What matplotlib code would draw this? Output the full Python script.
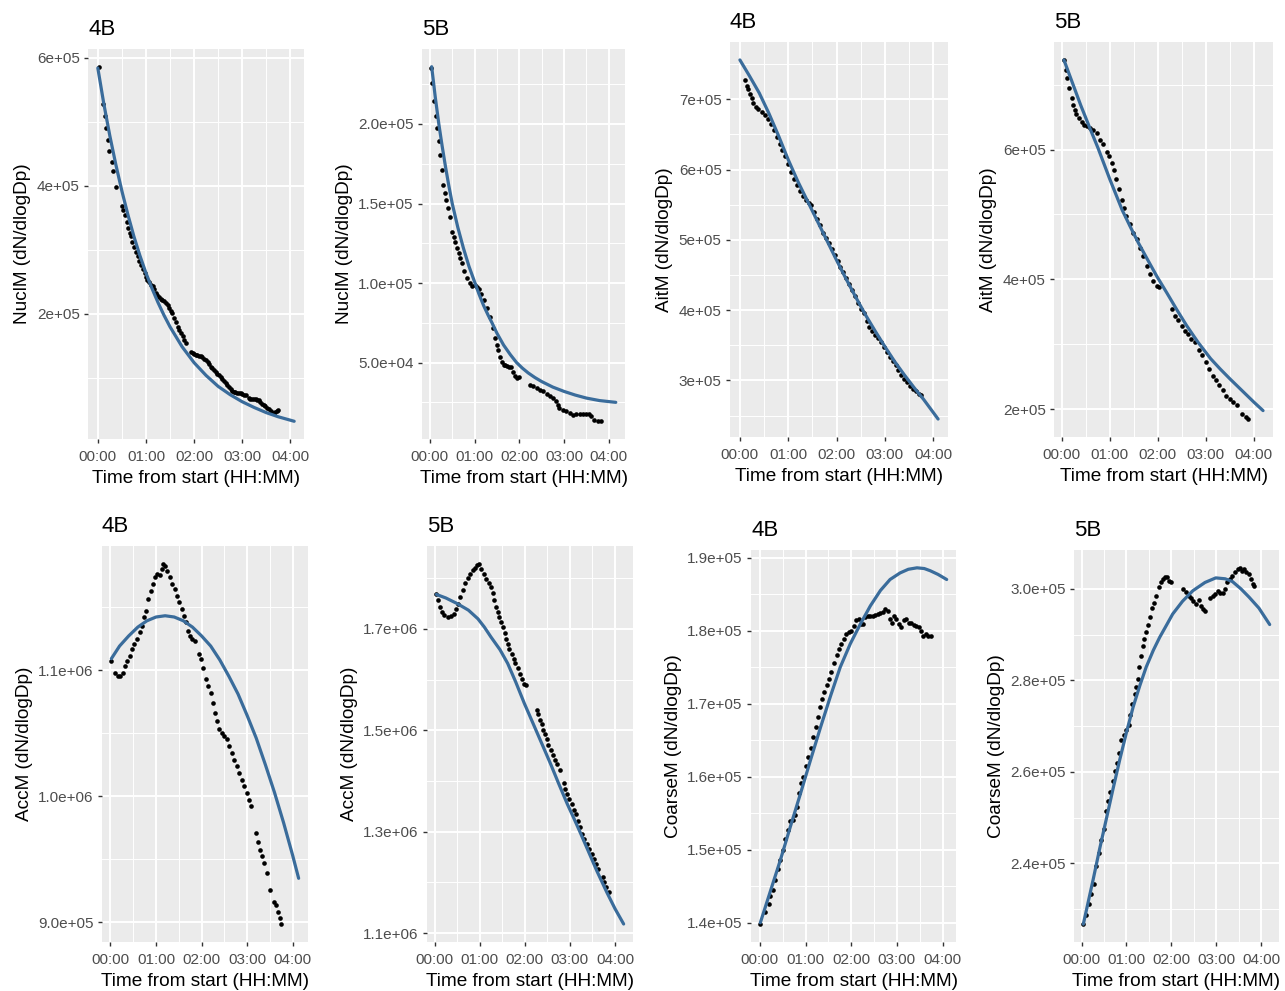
import matplotlib
matplotlib.use("Agg")
import matplotlib.pyplot as plt
from matplotlib.ticker import FixedLocator, FixedFormatter

plt.rcParams['font.family'] = ['Liberation Sans', 'DejaVu Sans']

# ---------------- data (time in hours from start, values in thousands) ----------------
# NuclM 4B
nuc4_t = [0.02, 0.10, 0.14, 0.17, 0.21, 0.24, 0.29, 0.32, 0.38,
          0.50, 0.53, 0.56, 0.60, 0.63, 0.66, 0.69, 0.72, 0.76, 0.79, 0.83, 0.86, 0.90, 0.93, 0.97,
          1.00, 1.03, 1.07, 1.10, 1.14, 1.17, 1.21, 1.24, 1.28, 1.31, 1.34, 1.38, 1.41, 1.45, 1.48,
          1.52, 1.55, 1.59, 1.62, 1.66, 1.69, 1.72, 1.76, 1.79, 1.83,
          1.93, 1.97, 2.00, 2.04, 2.07, 2.10, 2.14, 2.17, 2.21, 2.24, 2.28, 2.31, 2.35, 2.38, 2.41,
          2.45, 2.48, 2.52, 2.55, 2.59, 2.62, 2.66, 2.69, 2.72, 2.76, 2.79, 2.83, 2.86, 2.90, 2.93,
          2.97, 3.00, 3.03, 3.07, 3.14, 3.17, 3.21, 3.24, 3.28, 3.31, 3.34, 3.38, 3.41, 3.45, 3.48,
          3.52, 3.55, 3.59, 3.62, 3.66, 3.69, 3.72, 3.74]
nuc4_v = [586, 528, 509, 490, 472, 455, 438, 423, 399,
          368, 362, 355, 343, 335, 327, 321, 313, 305, 297, 290, 283, 277, 270, 264,
          258, 253, 250, 246, 243, 239, 233, 230, 227, 224, 222, 220, 217, 214, 210,
          205, 201, 194, 188, 180, 175, 170, 165, 160, 155,
          141, 139, 137, 136, 136, 135, 134, 133, 130, 128, 125, 122, 118, 115, 112,
          109, 106, 104, 102, 98, 95, 92, 89, 86, 83, 80, 78, 78, 77, 76,
          76, 75, 74, 73, 69, 68, 68, 68, 67, 66, 65, 63, 60, 58, 56,
          53, 51, 48, 45, 45, 47, 49, 50]
nuc4_fit_t = [0.0, 0.125, 0.25, 0.375, 0.5, 0.625, 0.75, 0.875, 1.0, 1.125, 1.25, 1.375, 1.5,
              1.75, 2.0, 2.25, 2.5, 2.75, 3.0, 3.25, 3.5, 3.75, 4.08]
nuc4_fit_v = [584, 528, 478, 433, 392, 355, 321, 291, 264, 240, 218, 198, 180,
              149, 124, 104, 87, 74, 63, 54, 46, 39.5, 32.5]

# NuclM 5B
nuc5_t = [0.03, 0.04, 0.09, 0.13, 0.16, 0.20, 0.22, 0.26, 0.30, 0.33, 0.37, 0.41, 0.45, 0.50,
          0.54, 0.57, 0.61, 0.65, 0.68, 0.72, 0.77, 0.83, 0.89, 0.94,
          1.01, 1.05, 1.09, 1.14, 1.20, 1.27, 1.35, 1.41, 1.46, 1.50, 1.53, 1.57, 1.61, 1.66,
          1.69, 1.73, 1.77, 1.81, 1.87, 1.90, 1.96, 2.00,
          2.24, 2.31, 2.39, 2.46, 2.53, 2.61, 2.68, 2.76, 2.83, 2.87, 2.90, 2.98, 3.05, 3.13,
          3.20, 3.27, 3.35, 3.42, 3.50, 3.57, 3.61, 3.68, 3.76, 3.83]
nuc5_v = [235.4, 226.0, 214.6, 205.2, 197.5, 189.6, 180.8, 170.8, 161.9, 156.3, 152.1, 146.9, 141.7, 132.3,
          129.2, 126.0, 121.9, 118.7, 115.6, 112.5, 107.3, 103.1, 100.0, 97.9,
          98.5, 97.5, 96.5, 93.0, 89.2, 84.0, 78.8, 71.5, 65.2, 61.0, 57.9, 53.8, 50.6, 48.5,
          48.2, 47.9, 47.5, 47.1, 43.8, 41.3, 40.2, 40.8,
          36.1, 35.0, 34.0, 32.9, 31.9, 30.4, 28.8, 27.7, 25.6, 23.5, 21.5, 20.4, 19.4, 18.3,
          17.3, 17.7, 17.7, 17.5, 17.7, 17.9, 16.3, 14.2, 13.1, 13.1]
nuc5_fit_t = [0.04, 0.12, 0.20, 0.275, 0.35, 0.425, 0.50, 0.625, 0.75, 0.875, 1.01, 1.10, 1.20,
              1.30, 1.39, 1.50, 1.65, 1.80, 1.94, 2.07, 2.20, 2.35, 2.50, 2.75, 3.00, 3.25,
              3.50, 3.80, 4.16]
nuc5_fit_v = [236, 217, 200, 186, 173, 161, 150, 135, 122, 110.5, 100, 93, 86,
              80, 75, 68.5, 61, 55, 50, 46.5, 43.5, 40.6, 38.1, 34.6, 31.9, 29.6,
              27.7, 26.1, 25.0]

# AitM 4B
ait4_t = [0.11, 0.14, 0.17, 0.21, 0.24, 0.28, 0.33, 0.38, 0.45, 0.52, 0.58, 0.64, 0.70, 0.76,
          0.82, 0.88, 0.94, 1.00, 1.06, 1.12, 1.18, 1.24, 1.30, 1.36, 1.42, 1.48, 1.54, 1.60,
          1.66, 1.72, 1.78, 1.84, 1.90, 1.96, 2.02, 2.08, 2.14, 2.20, 2.26, 2.32, 2.38, 2.44,
          2.50, 2.56, 2.62, 2.68, 2.74, 2.80, 2.86, 2.92, 2.98, 3.04, 3.10, 3.16, 3.22, 3.28,
          3.34, 3.40, 3.46, 3.52, 3.58, 3.64, 3.70, 3.74]
ait4_v = [727, 719, 714, 708, 702, 695, 689, 686, 682, 678, 672, 665, 656, 646,
          636, 628, 620, 608, 597, 587, 578, 570, 563, 557, 553, 550, 540, 530,
          521, 510, 502, 495, 487, 478, 470, 462, 454, 446, 437, 428, 420, 410,
          402, 396, 385, 376, 370, 365, 360, 355, 348, 340, 333, 328, 322, 315,
          308, 302, 298, 292, 288, 285, 281, 279]
ait4_fit_t = [0.0, 0.2, 0.4, 0.6, 0.8, 1.0, 1.2, 1.4, 1.6, 1.8, 2.0, 2.2, 2.4, 2.6, 2.8,
              3.0, 3.2, 3.4, 3.6, 3.8, 4.1]
ait4_fit_v = [756, 733, 709, 680, 648, 614, 583, 555, 527, 499, 471, 444, 418, 393, 370,
              348, 327, 308, 290, 273, 245]

# AitM 5B
ait5_t = [0.05, 0.09, 0.12, 0.16, 0.21, 0.24, 0.28, 0.31, 0.37, 0.42, 0.46, 0.52, 0.59, 0.66,
          0.73, 0.80, 0.87, 0.94, 0.99, 1.04, 1.09, 1.14, 1.20, 1.25, 1.30, 1.35, 1.42, 1.49,
          1.56, 1.63, 1.70, 1.77, 1.84, 1.91, 1.98, 2.03,
          2.29, 2.36, 2.43, 2.50, 2.57, 2.63, 2.70, 2.77,
          2.86, 2.93, 3.00, 3.07, 3.14, 3.21, 3.28, 3.36, 3.43, 3.50, 3.57, 3.64,
          3.76, 3.83, 3.88]
ait5_v = [738, 723, 710, 695, 679, 669, 661, 654, 648, 642, 638, 636, 633, 630,
          626, 615, 608, 597, 590, 580, 569, 554, 539, 523, 510, 498, 485, 472,
          462, 449, 436, 421, 408, 397, 390, 388,
          354, 344, 337, 329, 321, 316, 308, 303,
          291, 283, 273, 262, 252, 245, 237, 229, 221, 216, 211, 206,
          193, 188, 185]
ait5_fit_t = [0.05, 0.2, 0.4, 0.6, 0.76, 1.0, 1.26, 1.45, 1.6, 1.8, 1.98, 2.2, 2.4, 2.6, 2.84,
              3.1, 3.3, 3.5, 3.75, 4.0, 4.19]
ait5_fit_v = [738, 708, 668, 631, 602, 555, 507, 478, 456, 429, 405, 378, 353, 329, 303,
              278, 262, 247, 229, 211, 198]

# AccM 4B
acc4_t = [0.02, 0.11, 0.16, 0.22, 0.28, 0.33, 0.36, 0.42, 0.47, 0.52, 0.58, 0.64, 0.69, 0.74,
          0.78, 0.83, 0.88, 0.93, 0.98, 1.03, 1.09, 1.14, 1.16, 1.20, 1.25, 1.30, 1.36, 1.41,
          1.46, 1.51, 1.56, 1.61, 1.65, 1.70, 1.75, 1.80, 1.85,
          1.94, 1.99, 2.04, 2.10, 2.15, 2.20, 2.25, 2.30, 2.34, 2.39, 2.44, 2.50, 2.56, 2.61,
          2.66, 2.72, 2.77, 2.83, 2.88, 2.93, 2.99, 3.04, 3.09,
          3.19, 3.24, 3.28, 3.33, 3.38, 3.44, 3.51,
          3.59, 3.64, 3.68, 3.72, 3.75]
acc4_v = [1107, 1097.5, 1095.4, 1095.4, 1098, 1103, 1107, 1111, 1116.6, 1120.5, 1124.5, 1129.8, 1135, 1141.7,
          1147, 1156.3, 1163, 1168, 1173.5, 1176, 1175, 1180, 1184, 1182.8, 1178.8, 1173.5, 1168, 1164,
          1159, 1153.6, 1148, 1143, 1137.7, 1131, 1127, 1124.5, 1123,
          1112.6, 1108.6, 1102, 1092.7, 1087.4, 1082, 1074, 1066, 1059.6, 1053, 1050, 1047.7, 1045, 1039.7,
          1034.4, 1029, 1023.8, 1018.5, 1013, 1008, 1002.6, 997.4, 992,
          970.9, 964, 957.6, 952.3, 947, 939, 925.8,
          916.6, 913.9, 908.6, 903.3, 898.8]
acc4_fit_t = [0.02, 0.2, 0.4, 0.6, 0.8, 1.0, 1.2, 1.4, 1.6, 1.8, 2.0, 2.2, 2.4, 2.6, 2.8,
              3.0, 3.2, 3.4, 3.6, 3.8, 4.0, 4.13]
acc4_fit_v = [1109, 1119, 1127, 1134, 1139, 1142, 1143, 1142, 1139, 1134, 1127, 1119, 1108, 1095, 1081,
              1064, 1046, 1025, 1003, 979, 953, 935]

# AccM 5B
acc5_t = [0.04, 0.07, 0.11, 0.16, 0.22, 0.29, 0.37, 0.43, 0.48, 0.53, 0.57, 0.63, 0.68, 0.74,
          0.79, 0.85, 0.90, 0.94, 0.98, 1.03, 1.09, 1.14, 1.21, 1.25, 1.29, 1.32, 1.36, 1.40,
          1.43, 1.47, 1.52, 1.56, 1.58, 1.62, 1.66, 1.71, 1.75, 1.79, 1.84, 1.89, 1.93, 1.99, 2.02,
          2.26, 2.30, 2.34, 2.38, 2.41, 2.45, 2.49, 2.52, 2.57, 2.63, 2.67, 2.72, 2.77,
          2.87, 2.90, 2.94, 2.99, 3.04, 3.09, 3.13, 3.18, 3.22, 3.27, 3.32, 3.38, 3.43, 3.48,
          3.53, 3.58, 3.62,
          3.73, 3.76, 3.81, 3.86]
acc5_v = [1768, 1757, 1743, 1734, 1727, 1724, 1725, 1730, 1740, 1750, 1763, 1776, 1790, 1801,
          1809, 1816, 1821, 1826, 1828, 1819, 1809, 1799, 1791, 1783, 1770, 1757, 1743, 1734,
          1724, 1714, 1704, 1691, 1681, 1671, 1661, 1651, 1641, 1632, 1622, 1612, 1602, 1592, 1589,
          1541, 1532, 1521, 1512, 1501, 1492, 1482, 1472, 1462, 1452, 1442, 1433, 1422,
          1396, 1385, 1375, 1365, 1355, 1343, 1334, 1322, 1309, 1296, 1286, 1276, 1266, 1257,
          1247, 1237, 1227,
          1211, 1201, 1191, 1181]
acc5_fit_t = [0.04, 0.25, 0.5, 0.75, 0.96, 1.1, 1.25, 1.45, 1.62, 1.8, 1.99, 2.21, 2.4, 2.57,
              2.75, 2.94, 3.1, 3.24, 3.42, 3.6, 3.82, 4.0, 4.19]
acc5_fit_v = [1768, 1761, 1750, 1737, 1720, 1704, 1684, 1659, 1632, 1595, 1553, 1508, 1469, 1434,
              1395, 1355, 1324, 1296, 1259, 1222, 1180, 1148, 1118]

# CoarseM 4B
coa4_t = [0.01, 0.12, 0.20, 0.23, 0.29, 0.34, 0.39, 0.45, 0.51, 0.56, 0.61, 0.67, 0.73, 0.77,
          0.82, 0.86, 0.90, 0.95, 1.00, 1.05, 1.11, 1.17, 1.22, 1.27, 1.31, 1.36, 1.41, 1.46,
          1.51, 1.56, 1.62, 1.68, 1.73, 1.78, 1.84, 1.89, 1.95, 2.00, 2.05, 2.11, 2.16, 2.21,
          2.26, 2.31, 2.36, 2.42, 2.48, 2.53, 2.58, 2.64, 2.70, 2.75, 2.80, 2.84, 2.89, 2.94,
          2.99, 3.04, 3.09, 3.15, 3.20, 3.26, 3.31, 3.37, 3.42, 3.48, 3.53, 3.58, 3.64, 3.69, 3.74]
coa4_v = [139.8, 141.4, 142.5, 143.6, 144.5, 145.9, 147.3, 148.6, 150.0, 151.4, 152.7, 153.9, 154.0, 154.8,
          155.9, 157.7, 159.1, 160.0, 161.4, 162.7, 163.9, 165.5, 166.8, 168.2, 169.5, 170.7, 171.6, 172.5,
          173.4, 174.3, 175.5, 176.6, 177.5, 178.2, 178.9, 179.5, 179.8, 180.0, 180.7, 181.4, 181.6, 180.9,
          180.9, 181.8, 182.0, 182.0, 182.0, 182.2, 182.3, 182.4, 182.5, 183.0, 182.7, 181.6, 181.1, 182.0,
          181.6, 180.9, 180.5, 181.4, 181.6, 181.1, 181.0, 180.8, 180.7, 180.5, 180.0, 179.3, 179.5, 179.3, 179.2]
coa4_fit_t = [0.01, 0.25, 0.45, 0.67, 0.89, 1.11, 1.33, 1.55, 1.76, 1.98, 2.2, 2.42, 2.64, 2.85,
              3.07, 3.25, 3.44, 3.6, 3.73, 3.9, 4.09]
coa4_fit_v = [140.0, 144.7, 148.6, 153.2, 157.7, 162.3, 166.8, 171.1, 175.0, 178.2, 180.9, 183.4, 185.5, 187.0,
              187.9, 188.4, 188.6, 188.5, 188.2, 187.7, 187.0]

# CoarseM 5B
coa5_t = [0.04, 0.11, 0.17, 0.22, 0.27, 0.33, 0.39, 0.44, 0.50, 0.54, 0.59, 0.64, 0.69, 0.74,
          0.79, 0.84, 0.89, 0.94, 1.00, 1.05, 1.09, 1.13, 1.18, 1.22, 1.26, 1.29, 1.33, 1.37,
          1.40, 1.44, 1.48, 1.52, 1.57, 1.61, 1.66, 1.72, 1.76, 1.81, 1.86, 1.91, 1.94, 2.00,
          2.27, 2.33, 2.39, 2.44, 2.49, 2.55, 2.61, 2.66, 2.71, 2.76,
          2.86, 2.92, 2.98, 3.03, 3.08, 3.14, 3.19, 3.25, 3.31, 3.36, 3.42, 3.48, 3.53, 3.57,
          3.62, 3.67, 3.72, 3.77, 3.81, 3.85]
coa5_v = [226.7, 228.6, 231.1, 233.3, 235.4, 239.4, 242.3, 245.2, 247.4, 251.4, 253.6, 255.7, 257.9, 260.1,
          261.9, 264.1, 267.0, 268.0, 269.1, 270.2, 272.4, 274.9, 277.1, 278.6, 280.4, 282.9, 285.4, 287.6,
          289.1, 290.5, 292.0, 293.8, 295.9, 297.0, 298.5, 300.4, 301.4, 302.1, 302.6, 302.5, 301.7, 301.4,
          299.9, 299.4, 298.5, 298.1, 297.4, 296.7, 297.5, 296.3, 295.6, 295.2,
          298.1, 298.5, 298.8, 299.6, 299.2, 299.2, 299.9, 301.4, 302.1, 302.8, 303.6, 304.3, 304.6, 303.9,
          304.3, 303.6, 303.2, 302.1, 301.0, 300.7]
coa5_fit_t = [0.04, 0.15, 0.26, 0.4, 0.55, 0.7, 0.85, 1.0, 1.15, 1.3, 1.44, 1.6, 1.74, 1.9,
              2.03, 2.25, 2.48, 2.75, 2.99, 3.2, 3.36, 3.55, 3.73, 3.95, 4.19]
coa5_fit_v = [226.7, 231.6, 236.5, 243.0, 249.6, 256.2, 262.6, 268.6, 274.2, 278.9, 282.9, 286.6, 289.4, 292.2,
              294.5, 297.3, 299.6, 301.4, 302.4, 302.2, 301.6, 300.0, 298.2, 295.8, 292.2]

# ---------------- axis text ----------------
titles = ["4B", "5B", "4B", "5B", "4B", "5B", "4B", "5B"]
ylabels = ["NuclM (dN/dlogDp)", "NuclM (dN/dlogDp)", "AitM (dN/dlogDp)", "AitM (dN/dlogDp)",
           "AccM (dN/dlogDp)", "AccM (dN/dlogDp)", "CoarseM (dN/dlogDp)", "CoarseM (dN/dlogDp)"]
xlabel = "Time from start (HH:MM)"
xtick_pos = [0, 1, 2, 3, 4]
xtick_labels = ["00:00", "01:00", "02:00", "03:00", "04:00"]

ytick_vals = [
    [200e3, 400e3, 600e3],
    [50e3, 100e3, 150e3, 200e3],
    [300e3, 400e3, 500e3, 600e3, 700e3],
    [200e3, 400e3, 600e3],
    [900e3, 1000e3, 1100e3],
    [1100e3, 1300e3, 1500e3, 1700e3],
    [140e3, 150e3, 160e3, 170e3, 180e3, 190e3],
    [240e3, 260e3, 280e3, 300e3],
]
ytick_labels = [
    ["2e+05", "4e+05", "6e+05"],
    ["5.0e+04", "1.0e+05", "1.5e+05", "2.0e+05"],
    ["3e+05", "4e+05", "5e+05", "6e+05", "7e+05"],
    ["2e+05", "4e+05", "6e+05"],
    ["9.0e+05", "1.0e+06", "1.1e+06"],
    ["1.1e+06", "1.3e+06", "1.5e+06", "1.7e+06"],
    ["1.4e+05", "1.5e+05", "1.6e+05", "1.7e+05", "1.8e+05", "1.9e+05"],
    ["2.4e+05", "2.6e+05", "2.8e+05", "3.0e+05"],
]

series = [
    (nuc4_t, nuc4_v, nuc4_fit_t, nuc4_fit_v),
    (nuc5_t, nuc5_v, nuc5_fit_t, nuc5_fit_v),
    (ait4_t, ait4_v, ait4_fit_t, ait4_fit_v),
    (ait5_t, ait5_v, ait5_fit_t, ait5_fit_v),
    (acc4_t, acc4_v, acc4_fit_t, acc4_fit_v),
    (acc5_t, acc5_v, acc5_fit_t, acc5_fit_v),
    (coa4_t, coa4_v, coa4_fit_t, coa4_fit_v),
    (coa5_t, coa5_v, coa5_fit_t, coa5_fit_v),
]

# panel rectangles in pixels: (left, top, right, bottom)
W, H = 1285, 991
panel_px = [
    (88, 49, 304, 439),
    (422, 49, 625, 439),
    (730, 42, 948, 437),
    (1054, 42, 1273, 437),
    (102, 546, 308, 942),
    (427, 546, 633, 942),
    (751, 550, 956, 942),
    (1074, 550, 1279, 942),
]

BG = "#EBEBEB"
LINE = "#3A6C9B"

fig = plt.figure(figsize=(W / 100, H / 100), dpi=100)
fig.patch.set_facecolor("white")

for i, (t, v, ft, fv) in enumerate(series):
    l, tp, r, b = panel_px[i]
    ax = fig.add_axes([l / W, (H - b) / H, (r - l) / W, (b - tp) / H])
    ax.set_facecolor(BG)
    ax.scatter(t, [x * 1e3 for x in v], s=11, c="black", linewidths=0, zorder=3)
    ax.plot(ft, [x * 1e3 for x in fv], color=LINE, lw=2.3, zorder=4,
            solid_capstyle="round", solid_joinstyle="round")
    ax.margins(x=0.05, y=0.05)
    ax.autoscale_view()

    yt = ytick_vals[i]
    step = yt[1] - yt[0]
    yminor = [yt[0] - step / 2] + [y + step / 2 for y in yt]
    ax.xaxis.set_major_locator(FixedLocator(xtick_pos))
    ax.xaxis.set_major_formatter(FixedFormatter(xtick_labels))
    ax.xaxis.set_minor_locator(FixedLocator([0.5, 1.5, 2.5, 3.5]))
    ax.yaxis.set_major_locator(FixedLocator(yt))
    ax.yaxis.set_major_formatter(FixedFormatter(ytick_labels[i]))
    ax.yaxis.set_minor_locator(FixedLocator(yminor))

    ax.grid(which="major", color="white", lw=1.4, zorder=0)
    ax.grid(which="minor", color="white", lw=0.7, zorder=0)
    ax.set_axisbelow(True)
    for s in ax.spines.values():
        s.set_visible(False)
    ax.tick_params(which="major", length=3, width=1.0, color="#333333",
                   labelcolor="#4D4D4D", labelsize=11)
    ax.tick_params(axis="x", which="major", pad=5)
    ax.tick_params(axis="y", which="major", pad=3)
    ax.tick_params(which="minor", length=0)

    ax.set_title(titles[i], loc="left", fontsize=16, pad=10, color="black")
    ax.set_xlabel(xlabel, fontsize=13.7, labelpad=4, color="black")
    ax.set_ylabel(ylabels[i], fontsize=13.7, labelpad=4, color="black")

fig.savefig("out.png", dpi=100)
